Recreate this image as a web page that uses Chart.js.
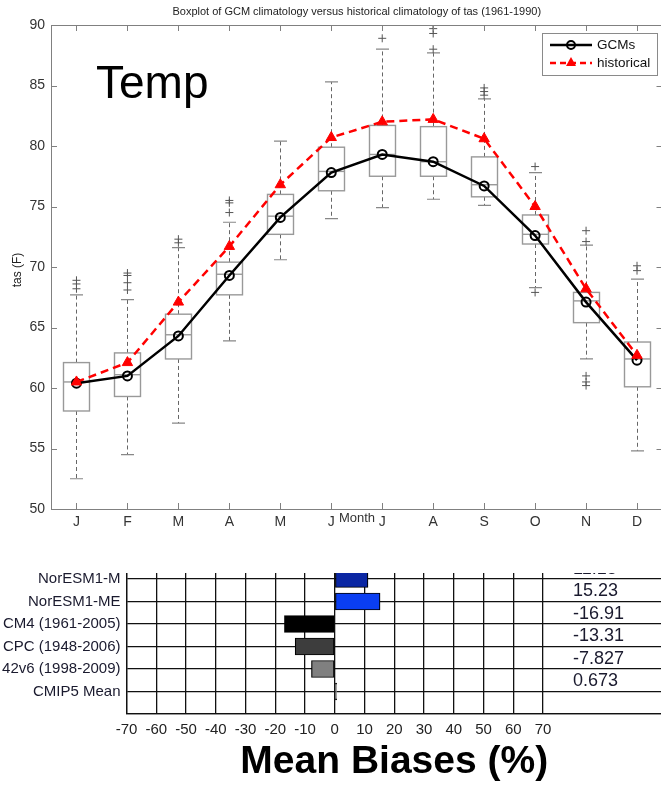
<!DOCTYPE html>
<html>
<head>
<meta charset="utf-8">
<script src="https://cdn.jsdelivr.net/npm/chart.js@4.4.0/dist/chart.umd.min.js"></script>
<style>
  html, body { margin: 0; padding: 0; background: #fff; overflow: hidden; }
  #topWrap { position: absolute; left: 0; top: 0; width: 661px; height: 535px; overflow: hidden; }
  #botWrap { position: absolute; left: 0; top: 573px; width: 661px; height: 212px; overflow: hidden; }
  #tas { position: absolute; left: 0; top: 0; }
  #bias { position: absolute; left: 0; top: -33px; }
</style>
</head>
<body>
<div id="topWrap"><canvas id="tas" width="672" height="535"></canvas></div>
<div id="botWrap"><canvas id="bias" width="672" height="245"></canvas></div>
<script>
// monthly tas (F), 1961-1990
var months = ['J', 'F', 'M', 'A', 'M', 'J', 'J', 'A', 'S', 'O', 'N', 'D'];
var gcmMean = [60.4, 61.0, 64.3, 69.3, 74.1, 77.8, 79.3, 78.7, 76.7, 72.6, 67.1, 62.3];
var historical = [60.5, 62.1, 67.1, 71.7, 76.8, 80.7, 82.0, 82.2, 80.6, 75.0, 68.2, 62.7];
var whiskerLow = [52.5, 54.5, 57.1, 63.9, 70.6, 74.0, 74.9, 75.6, 75.1, 68.3, 62.4, 54.8];
var boxQ1 = [58.1, 59.3, 62.4, 67.7, 72.7, 76.3, 77.5, 77.5, 75.8, 71.9, 65.4, 60.1];
var boxMedian = [60.5, 61.1, 64.4, 69.4, 74.2, 77.9, 79.3, 78.7, 76.8, 72.7, 67.2, 62.4];
var boxQ3 = [62.1, 62.9, 66.1, 70.4, 76.0, 79.9, 81.7, 81.6, 79.1, 74.3, 67.9, 63.8];
var whiskerHigh = [67.7, 67.3, 71.6, 73.7, 80.4, 85.3, 88.0, 87.7, 83.9, 77.8, 71.8, 69.0];
var outliers = [
  [68.2, 68.6, 68.9],
  [68.1, 68.7, 69.3, 69.5],
  [72.0, 72.3],
  [74.5, 75.3, 75.5],
  [],
  [],
  [88.9],
  [88.0, 89.3, 89.7, 90.0],
  [84.2, 84.5, 84.8],
  [67.9, 78.3],
  [60.2, 60.5, 61.0, 72.1, 73.0],
  [69.7, 70.1]
];

// mean biases (%)
var biasLabels = ['', 'NorESM1-M', 'NorESM1-ME', 'CM4 (1961-2005)', 'CPC (1948-2006)', '42v6 (1998-2009)', 'CMIP5 Mean', ''];
var biasValues = [null, 11.18, 15.23, -16.91, -13.31, -7.827, 0.673, null];
var biasColors = ['#fff', '#0b27a3', '#0a3ef2', '#000000', '#3d3d3d', '#808080', '#ffffff', '#fff'];
var biasTicks = [-70, -60, -50, -40, -30, -20, -10, 0, 10, 20, 30, 40, 50, 60, 70];

Chart.defaults.font.family = '"Liberation Sans", Arial, sans-serif';
Chart.defaults.animation = false;

function pts(arr) {
  return arr.map(function(v, i) { return {x: i + 1, y: v}; });
}
var outlierPts = [];
outliers.forEach(function(list, i) {
  list.forEach(function(v) { outlierPts.push({x: i + 1, y: v}); });
});

var boxPlugin = {
  id: 'boxes',
  beforeDatasetsDraw: function(chart) {
    var ctx = chart.ctx, xs = chart.scales.x, ys = chart.scales.y;
    ctx.save();
    for (var i = 0; i < months.length; i++) {
      var x = Math.round(xs.getPixelForValue(i + 1)) + 0.5;
      var hw = 13, cw = 6.5;
      var yLo = ys.getPixelForValue(whiskerLow[i]);
      var yQ1 = ys.getPixelForValue(boxQ1[i]);
      var yMed = ys.getPixelForValue(boxMedian[i]);
      var yQ3 = ys.getPixelForValue(boxQ3[i]);
      var yHi = ys.getPixelForValue(whiskerHigh[i]);
      ctx.strokeStyle = '#666';
      ctx.lineWidth = 1;
      ctx.setLineDash([4, 3]);
      ctx.beginPath();
      ctx.moveTo(x, yQ3); ctx.lineTo(x, yHi);
      ctx.moveTo(x, yQ1); ctx.lineTo(x, yLo);
      ctx.stroke();
      ctx.setLineDash([]);
      ctx.strokeStyle = '#888';
      ctx.lineWidth = 1.2;
      ctx.beginPath();
      ctx.moveTo(x - cw, yHi); ctx.lineTo(x + cw, yHi);
      ctx.moveTo(x - cw, yLo); ctx.lineTo(x + cw, yLo);
      ctx.stroke();
      ctx.strokeStyle = '#999';
      ctx.lineWidth = 1.4;
      ctx.fillStyle = '#fff';
      ctx.fillRect(x - hw, yQ3, 2 * hw, yQ1 - yQ3);
      ctx.strokeRect(x - hw, yQ3, 2 * hw, yQ1 - yQ3);
      ctx.beginPath();
      ctx.moveTo(x - hw, yMed); ctx.lineTo(x + hw, yMed);
      ctx.stroke();
    }
    ctx.restore();
  }
};

var framePlugin = {
  id: 'frame',
  afterDraw: function(chart) {
    var ctx = chart.ctx, a = chart.chartArea, xs = chart.scales.x, ys = chart.scales.y;
    ctx.save();
    ctx.strokeStyle = '#808080';
    ctx.lineWidth = 1;
    ctx.strokeRect(a.left + 0.5, a.top + 0.5, a.right - a.left, a.bottom - a.top);
    ctx.beginPath();
    xs.ticks.forEach(function(t) {
      var x = Math.round(xs.getPixelForValue(t.value)) + 0.5;
      ctx.moveTo(x, a.top); ctx.lineTo(x, a.top + 6);
      ctx.moveTo(x, a.bottom); ctx.lineTo(x, a.bottom - 6);
    });
    ys.ticks.forEach(function(t) {
      var y = Math.round(ys.getPixelForValue(t.value)) + 0.5;
      ctx.moveTo(a.left, y); ctx.lineTo(a.left + 6, y);
      ctx.moveTo(a.right, y); ctx.lineTo(a.right - 6, y);
    });
    ctx.stroke();

    var cx = (a.left + a.right) / 2;
    ctx.fillStyle = '#222';
    ctx.textAlign = 'center';
    ctx.textBaseline = 'middle';
    ctx.font = '11px "Liberation Sans", Arial, sans-serif';
    ctx.fillText('Boxplot of GCM climatology versus historical climatology of tas (1961-1990)', cx, 12);
    ctx.font = '13px "Liberation Sans", Arial, sans-serif';
    ctx.fillStyle = '#333';
    ctx.fillText('Month', 357, 518);

    ctx.save();
    ctx.translate(18, 270);
    ctx.rotate(-Math.PI / 2);
    ctx.font = '12px "Liberation Sans", Arial, sans-serif';
    ctx.fillStyle = '#222';
    ctx.fillText('tas (F)', 0, 0);
    ctx.restore();

    ctx.textAlign = 'left';
    ctx.textBaseline = 'alphabetic';
    ctx.fillStyle = '#000';
    ctx.font = '46px "Liberation Sans", Arial, sans-serif';
    ctx.fillText('Temp', 96, 98);

    // legend
    var lx = 542, ly = 33, lw = 115, lh = 42;
    ctx.fillStyle = '#fff';
    ctx.fillRect(lx, ly, lw, lh);
    ctx.strokeStyle = '#8a8a8a';
    ctx.lineWidth = 1;
    ctx.strokeRect(lx + 0.5, ly + 0.5, lw, lh);
    ctx.lineWidth = 2.5;
    ctx.strokeStyle = '#000';
    ctx.beginPath(); ctx.moveTo(550, 45); ctx.lineTo(592, 45); ctx.stroke();
    ctx.lineWidth = 2;
    ctx.beginPath(); ctx.arc(571, 45, 4, 0, Math.PI * 2); ctx.stroke();
    ctx.strokeStyle = '#ff0000';
    ctx.lineWidth = 2.5;
    ctx.setLineDash([6, 4]);
    ctx.beginPath(); ctx.moveTo(550, 63); ctx.lineTo(592, 63); ctx.stroke();
    ctx.setLineDash([]);
    ctx.fillStyle = '#ff0000';
    ctx.beginPath(); ctx.moveTo(571, 57); ctx.lineTo(576, 66); ctx.lineTo(566, 66); ctx.closePath(); ctx.fill();
    ctx.fillStyle = '#111';
    ctx.font = '13.5px "Liberation Sans", Arial, sans-serif';
    ctx.textBaseline = 'middle';
    ctx.fillText('GCMs', 597, 45);
    ctx.fillText('historical', 597, 63);
    ctx.restore();
  }
};

new Chart(document.getElementById('tas'), {
  type: 'line',
  data: {
    datasets: [{
      label: 'historical',
      data: pts(historical),
      borderColor: '#ff0000',
      backgroundColor: '#ff0000',
      borderWidth: 2.5,
      borderDash: [8, 5],
      pointStyle: 'triangle',
      pointRadius: 6,
      pointBorderWidth: 1,
      order: 0
    }, {
      label: 'GCMs',
      data: pts(gcmMean),
      borderColor: '#000',
      backgroundColor: 'rgba(0,0,0,0)',
      borderWidth: 2.5,
      pointStyle: 'circle',
      pointRadius: 4.5,
      pointBorderWidth: 2,
      order: 1
    }, {
      type: 'scatter',
      label: 'outliers',
      data: outlierPts,
      borderColor: '#555',
      pointStyle: 'cross',
      pointRadius: 4,
      pointBorderWidth: 1,
      showLine: false,
      order: 2
    }]
  },
  options: {
    responsive: false,
    layout: { padding: { top: 25, right: 9.5, left: 0, bottom: 0 } },
    plugins: { legend: { display: false }, tooltip: { enabled: false } },
    scales: {
      x: {
        type: 'linear', min: 0.5, max: 12.5,
        afterBuildTicks: function(axis) {
          axis.ticks = months.map(function(m, i) { return {value: i + 1}; });
        },
        afterFit: function(axis) { axis.height = 26; },
        grid: { display: false, drawTicks: false }, border: { display: false },
        ticks: {
          color: '#333', font: { size: 14 }, padding: 5, maxRotation: 0,
          callback: function(v) { return months[v - 1]; }
        }
      },
      y: {
        min: 50, max: 90,
        afterFit: function(axis) { axis.width = 51; },
        grid: { display: false, drawTicks: false }, border: { display: false },
        ticks: { stepSize: 5, color: '#333', font: { size: 14 }, padding: 6 }
      }
    }
  },
  plugins: [boxPlugin, framePlugin]
});

var biasText = {
  id: 'biasText',
  afterDraw: function(chart) {
    var ctx = chart.ctx, xs = chart.scales.x, ys = chart.scales.y, a = chart.chartArea;
    ctx.save();
    ctx.fillStyle = '#1a1a2e';
    ctx.font = '18px "Liberation Sans", Arial, sans-serif';
    ctx.textAlign = 'left';
    ctx.textBaseline = 'middle';
    biasValues.forEach(function(v, i) {
      if (v === null) return;
      ctx.fillText(String(v), xs.getPixelForValue(70) + 30, ys.getPixelForValue(i) - 10);
    });
    ctx.fillStyle = '#000';
    ctx.textAlign = 'center';
    ctx.font = 'bold 39px "Liberation Sans", Arial, sans-serif';
    ctx.fillText('Mean Biases (%)', (a.left + a.right) / 2, 222);
    ctx.restore();
  }
};

new Chart(document.getElementById('bias'), {
  type: 'bar',
  data: {
    labels: biasLabels,
    datasets: [{
      data: biasValues,
      backgroundColor: biasColors,
      borderColor: '#000',
      borderWidth: 1.2,
      borderSkipped: false,
      barThickness: 17
    }]
  },
  options: {
    indexAxis: 'y',
    responsive: false,
    layout: { padding: { top: 16.5, right: 10, left: 0, bottom: 0 } },
    plugins: { legend: { display: false }, tooltip: { enabled: false } },
    scales: {
      x: {
        min: -70, max: 110,
        afterBuildTicks: function(axis) {
          axis.ticks = biasTicks.map(function(v) { return {value: v}; });
        },
        afterFit: function(axis) { axis.height = 71; },
        grid: { color: '#111', lineWidth: 1.3, drawTicks: false },
        border: { color: '#111', width: 1.3 },
        ticks: { color: '#222', font: { size: 15 }, padding: 7, maxRotation: 0 }
      },
      y: {
        offset: false,
        afterFit: function(axis) { axis.width = 126.5; },
        grid: { color: '#111', lineWidth: 1.3, drawTicks: false, offset: false },
        border: { color: '#111', width: 1.3 },
        ticks: { color: '#1a1a2e', font: { size: 15 }, padding: 6 }
      }
    }
  },
  plugins: [biasText]
});
</script>
</body>
</html>
